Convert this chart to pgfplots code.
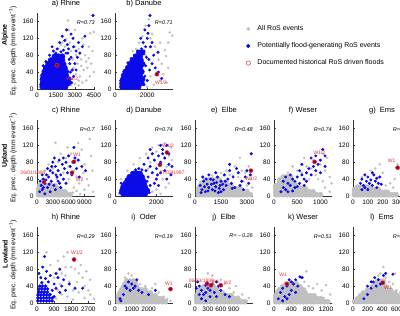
\documentclass[border=0pt]{standalone}
\usepackage{pgfplots}
\pgfplotsset{compat=1.18}
\usepackage{fontspec}
\setmainfont{Liberation Sans}
\definecolor{gcol}{RGB}{192,192,192}
\definecolor{bcol}{RGB}{10,10,235}
\definecolor{dred}{RGB}{150,0,50}
\definecolor{lred}{RGB}{235,45,45}
\tikzset{
  lab/.style={font=\fontsize{5}{5}\selectfont, text=lred, inner sep=0pt},
  rlab/.style={anchor=east, font=\fontsize{5.5}{6}\selectfont\itshape, inner sep=0pt},
}
\pgfplotsset{
  panel/.style={scale only axis, width=58pt, height=76pt, anchor=south west,
    xmin=0, ymin=0, ymax=180, ytick={0,40,80,120,160},
    axis lines=left, axis line style={-, draw=black!80, line width=0.4pt},
    tick align=inside, major tick length=1.8pt, tick style={black!80, line width=0.4pt},
    tick label style={font=\fontsize{6.5}{7}\selectfont},
    scaled x ticks=false, /pgf/number format/set thousands separator={},
    /pgf/number format/assume math mode=true,
    title style={font=\fontsize{7.5}{8}\selectfont, yshift=-3.5pt},
    clip mode=individual},
  gc/.style={only marks, mark=*, mark size=2.6pt, color=gcol},
  gs/.style={only marks, mark=*, mark size=1.1pt, color=gcol},
  bc/.style={only marks, mark=*, mark size=2.8pt, color=bcol},
  bs/.style={only marks, mark=*, mark size=1.3pt, color=bcol},
  rd/.style={only marks, mark=*, mark size=2pt, mark options={draw=lred, fill=dred, line width=0.5pt}},
}
\begin{document}
\begin{tikzpicture}
\useasboundingbox (0,0) rectangle (400pt,316pt);
\clip (0,0) rectangle (400pt,316pt);
% ---------- a) Rhine alpine
\begin{axis}[panel, at={(37pt,227pt)}, xmax=4600, xtick={0,1500,3000,4500}, title={a) Rhine},
  legend style={at={(axis description cs:3.55,0.566)}, anchor=west, draw=none, fill=none,
    font=\fontsize{7}{8}\selectfont, row sep=6.5pt, legend cell align=left,
    /tikz/every odd column/.append style={column sep=5pt}}]
\addlegendimage{only marks, mark=*, mark size=1.7pt, color=gcol}
\addlegendentry{All RoS events}
\addlegendimage{only marks, mark=*, mark size=1.9pt, color=bcol}
\addlegendentry{Potentially flood-generating RoS events}
\addlegendimage{only marks, mark=o, mark size=2.2pt, color=lred, line width=0.5pt}
\addlegendentry{Documented historical RoS driven floods}
\addplot[gs] coordinates {(200,5)(400,3)(600,8)(800,2)(1000,5)(1200,3)(1500,6)(1800,4)(2100,8)(2400,5)(2700,10)(3000,12)(3300,8)(3600,15)(3900,20)(4200,30)(2800,25)(3100,35)(3400,30)(3700,45)(4000,50)(4300,60)(2900,50)(3200,60)(3500,70)(3800,80)(4100,73)(4400,90)(2600,110)(2500,140)(2460,162)(3000,100)(3300,95)(4200,132)(3600,120)(2200,100)(2000,110)(1700,95)(1400,80)(1100,70)(800,55)(500,35)(300,30)(600,45)(900,62)(1300,88)(1900,105)(2300,118)(2700,90)(3100,80)(3500,55)(3900,65)(4500,40)(4100,100)(3000,140)(3700,105)(2850,70)(3300,20)(4500,135)};
\addplot[bc] coordinates {(450,5)(750,5)(1050,5)(1350,5)(1650,5)(1950,5)(2250,5)
(450,14)(750,14)(1050,14)(1350,14)(1650,14)(1950,14)(2250,14)(2500,14)
(450,23)(750,23)(1050,23)(1350,23)(1650,23)(1950,23)(2250,23)(2500,23)
(500,32)(800,32)(1100,32)(1400,32)(1700,32)(2000,32)(2300,32)
(600,41)(900,41)(1200,41)(1500,41)(1800,41)(2100,41)(2300,41)
(700,50)(1000,50)(1300,50)(1600,50)(1900,50)(2200,50)
(900,59)(1200,59)(1500,59)(1800,59)(2100,59)
(1100,68)(1400,68)(1700,68)(2000,68)
(1400,77)(1700,77)(2000,77)};
\addplot[bs] coordinates {(2300,85)(2500,95)(2700,75)(2900,100)(2860,120)(3100,90)(2600,60)(2800,45)(3000,60)(3200,75)(2400,105)(2200,115)(2000,125)(1800,110)(1600,95)(1300,90)(1000,80)(700,65)(3400,85)(3600,100)(4440,174)(3800,125)(2700,130)(2350,140)(3300,110)(2900,30)(3100,45)(500,55)(1200,100)(2100,92)(1900,88)(2550,70)(2650,40)(2750,15)(300,10)(350,25)(2450,85)(1500,85)};
\addplot[rd] coordinates {(1580,56)};
\node[lab] at (axis cs:2800,24) {W1/2};
\node[rlab] at (rel axis cs:1,0.88) {R=0.73};
\end{axis}
% ---------- b) Danube alpine
\begin{axis}[panel, at={(115pt,227pt)}, xmax=3600, xtick={0,2000}, title={b) Danube}]
\addplot[gs] coordinates {(300,10)(500,40)(700,50)(900,65)(1100,90)(1300,95)(1500,110)(1700,125)(1900,150)(2100,165)(2300,130)(2500,100)(2700,70)(2900,60)(3100,92)(3160,78)(3300,110)(3400,134)(3550,126)(2600,40)(2800,20)(3000,35)(3200,15)(2400,10)(2000,5)(2200,30)(1900,80)(2200,120)(2800,110)(3300,50)};
\addplot[bc] coordinates {(450,5)(700,5)(950,5)(1200,5)(1450,5)
(450,14)(700,14)(950,14)(1200,14)(1450,14)(1650,14)
(500,23)(750,23)(1000,23)(1250,23)(1500,23)(1700,23)
(550,32)(800,32)(1050,32)(1300,32)(1550,32)
(650,41)(900,41)(1150,41)(1400,41)(1650,41)
(800,50)(1050,50)(1300,50)(1550,50)
(950,59)(1200,59)(1450,59)(1700,59)
(1100,68)(1350,68)(1600,68)
(1300,77)(1550,77)(1500,86)(1700,86)};
\addplot[bs] coordinates {(1800,90)(1900,100)(1750,110)(2000,120)(2050,132)(1850,140)(2170,174)(2100,150)(1650,95)(1400,90)(1200,80)(1000,72)(2200,100)(2400,80)(2670,87)(2300,60)(2500,50)(2100,70)(1900,55)(2900,25)(2700,40)(1850,30)(2000,20)(2300,110)(1600,120)(1950,75)(2150,45)(800,62)(350,20)(1800,10)};
\addplot[rd] coordinates {(2600,35)};
\node[lab] at (axis cs:2850,16) {W1/2};
\node[rlab] at (rel axis cs:1,0.88) {R=0.71};
\end{axis}
% ---------- c) Rhine upland
\begin{axis}[panel, at={(37pt,120pt)}, xmax=11000, xtick={0,3000,6000,9000}, title={c) Rhine}]
\addplot[gc] coordinates {(300,3)(800,3)(1300,3)(1800,3)(2300,3)(2800,3)(3300,3)(3800,3)(4300,3)(4800,3)(5300,3)(5800,3)(6300,3)
(300,10)(800,10)(1300,10)(1800,10)(2300,10)(2800,10)(3300,10)(3800,10)(4300,10)(4800,10)(5300,10)
(300,17)(800,17)(1300,17)(1800,17)(2300,17)(2800,17)(3300,17)(3800,17)(4300,17)
(500,24)(1000,24)(1500,24)(2000,24)(2500,24)(3000,24)(3500,24)};
\addplot[gs] coordinates {(1000,40)(2000,50)(3000,65)(3500,126)(4000,80)(5000,55)(5500,90)(6000,70)(6500,100)(7000,60)(7500,45)(8000,85)(8500,110)(9000,75)(9500,40)(10000,135)(10500,60)(7000,20)(8000,30)(9000,15)(6000,40)(4500,100)(5800,115)(3800,40)(2500,30)(7800,125)(8800,55)(10200,95)(6800,8)(7500,12)(8200,5)(9800,25)(10600,10)(1500,60)(2200,75)};
\addplot[bs] coordinates {(500,10)(800,25)(1000,15)(1200,40)(1500,30)(1800,50)(2000,20)(2200,45)(2500,60)(2700,35)(3000,55)(3200,25)(3500,70)(3800,45)(4000,60)(4200,85)(4500,50)(4800,75)(5000,40)(5200,65)(5500,80)(5800,55)(6000,95)(6300,70)(6600,50)(7000,115)(7200,90)(7500,65)(7800,85)(8000,45)(8500,70)(1500,5)(2500,10)(3500,15)(4500,20)(600,35)(2000,65)(3000,80)(3300,90)(4000,35)(5500,30)(6800,80)(9200,60)(1000,50)(2800,70)(5000,90)(1200,20)(1700,38)(2300,28)(3600,50)(4300,30)};
\addplot[rd] coordinates {(7000,81)(6640,55)(1330,33)};
\node[lab] at (axis cs:7600,98) {W1};
\node[lab] at (axis cs:8100,38) {W2};
\node[lab] at (axis cs:-760,55) {26/01/1995};
\node[rlab] at (rel axis cs:1,0.88) {R=0.7};
\end{axis}
% ---------- d) Danube upland
\begin{axis}[panel, at={(115pt,120pt)}, xmax=2800, xtick={0,2000}, title={d) Danube}]
\addplot[gs] coordinates {(300,40)(600,60)(900,75)(1200,90)(1500,100)(1800,115)(2100,120)(2400,125)(2700,115)(2600,95)(2750,85)(2500,70)(2300,40)(2000,15)(2600,30)(2750,55)(1800,10)(1200,5)(2200,5)(1700,80)(2000,105)(1400,40)(1600,65)(2450,20)(200,5)(1000,60)};
\addplot[bc] coordinates {(400,5)(550,5)(700,5)(850,5)(1000,5)(1150,5)(1300,5)(1450,5)
(350,13)(500,13)(650,13)(800,13)(950,13)(1100,13)(1250,13)(1400,13)(1550,13)
(400,21)(550,21)(700,21)(850,21)(1000,21)(1150,21)(1300,21)(1450,21)
(500,29)(650,29)(800,29)(950,29)(1100,29)(1250,29)(1400,29)
(600,37)(750,37)(900,37)(1050,37)(1200,37)(1350,37)
(700,45)(850,45)(1000,45)(1150,45)(1300,45)
(900,53)(1050,53)(1200,53)};
\addplot[bs] coordinates {(1500,60)(1600,45)(1700,70)(1800,55)(1900,85)(2000,65)(2100,95)(2200,80)(2300,110)(2400,90)(2500,120)(1400,75)(1300,62)(1150,65)(1600,90)(1800,100)(2000,40)(2200,55)(2400,60)(2600,75)(2700,50)(1900,30)(2100,25)(1700,25)(2300,100)(2600,100)(2200,120)(1000,62)(800,55)(1500,20)(2500,40)(2750,70)(1700,110)(2050,50)(1550,35)(300,30)(250,8)(1650,8)};
\addplot[rd] coordinates {(2510,103)(2170,74)};
\node[lab] at (axis cs:2560,119) {W1/2};
\node[lab] at (axis cs:2750,55) {27/02/1997};
\node[rlab] at (rel axis cs:1,0.88) {R=0.74};
\end{axis}
% ---------- e) Elbe upland
\begin{axis}[panel, at={(195pt,120pt)}, xmax=3350, xtick={0,1500,3000}, title={e)\ \ Elbe}]
\addplot[gc] coordinates {(200,3)(400,3)(600,3)(800,3)(1000,3)(1200,3)(1400,3)(1600,3)(1800,3)(2000,3)(2200,3)(2400,3)(2600,3)(2800,3)(3000,3)(3200,3)
(200,10)(400,10)(600,10)(800,10)(1000,10)(1200,10)(1400,10)(1600,10)(1800,10)(2000,10)(2200,10)(2400,10)(2600,10)(2800,10)(3000,10)
(200,17)(400,17)(600,17)(800,17)(1000,17)(1200,17)(1400,17)(1600,17)(1800,17)(2000,17)(2200,17)(2400,17)(2600,17)
(300,24)(500,24)(700,24)(900,24)(1100,24)(1300,24)(1500,24)(1700,24)(1900,24)(2100,24)
(400,31)(600,31)(800,31)(1000,31)(1200,31)(1400,31)(1600,31)(1800,31)
(600,38)(800,38)(1000,38)(1200,38)(1400,38)};
\addplot[gs] coordinates {(2000,50)(2500,45)(2800,35)(3000,25)(3200,40)(2600,90)(2300,70)(1800,60)(1500,55)(3100,70)(3300,20)(2900,55)(2200,48)(1000,48)(2700,60)};
\addplot[bs] coordinates {(300,25)(400,15)(500,35)(600,10)(700,28)(800,20)(900,40)(1000,15)(1100,30)(1200,22)(1300,45)(1400,18)(1500,35)(1600,28)(1700,50)(1800,25)(1900,40)(2000,60)(2100,30)(2200,45)(2300,20)(2500,55)(2700,35)(2900,45)(3100,30)(3200,50)(2400,65)(2000,75)(3000,60)(2600,25)(450,45)(1200,55)(800,50)(1500,10)(2800,15)(3250,100)(350,8)(550,22)(650,40)(750,12)(950,28)(1050,38)(1150,12)(1250,32)(1450,25)(1350,8)(1650,15)(1750,35)(2150,18)};
\addplot[rd] coordinates {(3230,60)};
\node[lab] at (axis cs:3250,40) {W1/2};
\node[rlab] at (rel axis cs:1,0.88) {R=0.48};
\end{axis}
% ---------- f) Weser upland
\begin{axis}[panel, at={(274pt,120pt)}, xmax=1250, xtick={0,500,1000}, title={f) Weser}]
\addplot[gc] coordinates {(40,3)(120,3)(200,3)(280,3)(360,3)(440,3)(520,3)(600,3)(680,3)(760,3)(840,3)(920,3)(1000,3)
(40,10)(120,10)(200,10)(280,10)(360,10)(440,10)(520,10)(600,10)(680,10)(760,10)(840,10)
(40,17)(120,17)(200,17)(280,17)(360,17)(440,17)(520,17)(600,17)(680,17)
(40,24)(120,24)(200,24)(280,24)(360,24)(440,24)(520,24)
(120,31)(200,31)(280,31)(360,31)(440,31)
(120,38)(200,38)(280,38)(360,38)
(200,45)(280,45)(360,45)};
\addplot[gs] coordinates {(500,60)(600,55)(700,70)(800,65)(900,50)(1000,75)(1100,60)(1200,45)(1150,90)(1050,100)(950,40)(850,85)(1240,30)(400,70)(300,55)(650,90)(1100,20)(1200,10)(750,40)(1050,35)};
\addplot[bs] coordinates {(150,10)(200,20)(250,15)(300,30)(350,25)(400,40)(450,35)(500,45)(550,30)(600,50)(650,40)(700,55)(750,65)(800,50)(850,70)(900,60)(950,75)(1000,85)(1050,110)(1100,95)(250,45)(350,50)(450,20)(550,60)(700,35)(900,95)(1000,55)(600,75)(800,90)(1100,70)(200,35)(300,10)(400,12)(500,22)(650,25)};
\addplot[rd] coordinates {(875,81)};
\node[lab] at (axis cs:980,103) {W1/2};
\node[rlab] at (rel axis cs:1,0.88) {R=0.74};
\end{axis}
% ---------- g) Ems upland
\begin{axis}[panel, at={(353pt,120pt)}, xmax=390, xtick={0,100,200,300}, title={g)\ \ Ems}]
\addplot[gc] coordinates {(10,3)(30,3)(50,3)(70,3)(90,3)(110,3)(130,3)(150,3)(170,3)(190,3)(210,3)(230,3)(250,3)(270,3)(290,3)
(10,9)(30,9)(50,9)(70,9)(90,9)(110,9)(130,9)(150,9)(170,9)(190,9)(210,9)(230,9)
(10,15)(30,15)(50,15)(70,15)(90,15)(110,15)(130,15)(150,15)(170,15)
(30,21)(50,21)(70,21)(90,21)(110,21)};
\addplot[gs] coordinates {(60,45)(120,60)(150,65)(200,55)(250,30)(280,40)(300,75)(270,20)(320,50)(350,35)(220,25)(180,75)(330,15)};
\addplot[bs] coordinates {(50,30)(60,40)(70,25)(80,20)(90,35)(100,45)(110,30)(120,38)(130,25)(140,50)(150,35)(160,42)(170,30)(180,45)(100,15)(130,55)(160,20)(190,28)(80,50)(60,15)};
\addplot[rd] coordinates {(300,67)};
\node[lab] at (axis cs:260,84) {W1};
\node[rlab] at (rel axis cs:1,0.88) {R=0.66};
\end{axis}
% ---------- h) Rhine lowland
\begin{axis}[panel, at={(37pt,13pt)}, xmax=3050, xtick={0,900,1800,2700}, title={h) Rhine}]
\addplot[gs] coordinates {(1000,10)(1300,20)(1600,15)(1900,30)(2200,25)(2500,40)(2800,20)(3000,10)(1100,100)(1400,110)(1600,120)(1800,85)(2000,80)(2200,70)(2400,60)(2600,75)(2800,55)(1500,65)(1700,50)(1200,45)(900,60)(700,90)(2100,50)(2700,30)(1500,85)(500,120)(2300,90)(1300,70)(1100,30)(1900,8)(2500,12)(600,15)(300,50)};
\addplot[bs, mark size=1.6pt] coordinates {(50,5)(200,5)(350,5)(500,5)(650,5)(800,5)
(50,12)(200,12)(350,12)(500,12)(650,12)(800,12)
(50,19)(200,19)(350,19)(500,19)(650,19)
(100,26)(250,26)(400,26)(550,26)
(100,33)(250,33)(400,33)(550,33)
(150,40)(300,40)(450,40)};
\addplot[bs] coordinates {(400,110)(300,85)(500,75)(200,60)(700,65)(600,50)(900,45)(1000,35)(1100,60)(1200,25)(1300,40)(1400,55)(1500,30)(1700,45)(2000,35)(2400,35)(800,30)(1000,70)(100,70)(250,48)(1200,80)(700,20)(900,15)(450,58)};
\addplot[rd] coordinates {(1950,103)};
\node[lab] at (axis cs:2100,119) {W1/2};
\node[rlab] at (rel axis cs:1,0.88) {R=0.29};
\end{axis}
% ---------- i) Oder lowland
\begin{axis}[panel, at={(115pt,13pt)}, xmax=3450, xtick={0,1000,2000}, title={i)\ \ Oder}]
\addplot[gc] coordinates {(200,3)(400,3)(600,3)(800,3)(1000,3)(1200,3)(1400,3)(1600,3)(1800,3)(2000,3)(2200,3)(2400,3)(2600,3)(2800,3)(3000,3)
(200,10)(400,10)(600,10)(800,10)(1000,10)(1200,10)(1400,10)(1600,10)(1800,10)(2000,10)(2200,10)(2400,10)(2600,10)(2800,10)
(200,17)(400,17)(600,17)(800,17)(1000,17)(1200,17)(1400,17)(1600,17)(1800,17)(2000,17)(2200,17)(2400,17)
(300,24)(500,24)(700,24)(900,24)(1100,24)(1300,24)(1500,24)(1700,24)(1900,24)(2100,24)
(400,31)(600,31)(800,31)(1000,31)(1200,31)(1400,31)(1600,31)(1800,31)
(500,38)(700,38)(900,38)(1100,38)(1300,38)
(600,45)(800,45)(1000,45)(1200,45)
(700,52)(900,52)(1100,52)};
\addplot[gs] coordinates {(1000,65)(800,70)(1300,50)(1800,40)(2200,35)(2600,25)(2900,15)(3100,10)(1500,45)(600,60)(3300,5)(2400,45)};
\addplot[bs] coordinates {(300,10)(350,5)(600,40)(700,35)(800,50)(900,30)(1000,45)(1100,35)(1200,40)(1400,30)(1600,25)(2000,20)(2400,30)(500,20)(1300,55)};
\addplot[rd] coordinates {(3300,33)};
\node[lab] at (axis cs:3200,45) {W1};
\node[rlab] at (rel axis cs:1,0.88) {R=0.19};
\end{axis}
% ---------- j) Elbe lowland
\begin{axis}[panel, at={(195pt,13pt)}, xmax=1350, xtick={0,300,600,900}, title={j)\ \ Elbe}]
\addplot[gc] coordinates {(40,3)(120,3)(200,3)(280,3)(360,3)(440,3)(520,3)(600,3)(680,3)(760,3)(840,3)(920,3)(1000,3)(1080,3)(1160,3)
(40,10)(120,10)(200,10)(280,10)(360,10)(440,10)(520,10)(600,10)(680,10)(760,10)(840,10)(920,10)(1000,10)
(40,17)(120,17)(200,17)(280,17)(360,17)(440,17)(520,17)(600,17)(680,17)(760,17)(840,17)
(80,24)(160,24)(240,24)(320,24)(400,24)(480,24)(560,24)(640,24)
(120,31)(200,31)(280,31)(360,31)(440,31)(520,31)
(200,38)(280,38)(360,38)(440,38)};
\addplot[gs] coordinates {(600,55)(700,45)(800,35)(900,25)(1000,15)(1100,20)(1250,12)(500,50)(400,65)(300,70)(1200,5)(950,40)};
\addplot[bs] coordinates {(30,35)(60,50)(100,40)(150,30)(200,20)(250,25)(300,35)(350,30)(400,45)(450,25)(500,15)(550,40)(600,30)(700,20)(800,15)(150,10)(250,5)(350,15)(100,20)(500,50)(250,42)};
\addplot[rd] coordinates {(280,46)(370,42)(600,42)};
\node[lab] at (axis cs:150,52) {06/03/1998};
\node[lab] at (axis cs:480,50) {W1};
\node[lab] at (axis cs:760,48) {W2};
\node[rlab] at (rel axis cs:1,0.88) {R=$-$0.26};
\end{axis}
% ---------- k) Weser lowland
\begin{axis}[panel, at={(274pt,13pt)}, xmax=1340, xtick={0,400,800,1200}, title={k) Weser}]
\addplot[gc] coordinates {(40,3)(120,3)(200,3)(280,3)(360,3)(440,3)(520,3)(600,3)(680,3)(760,3)(840,3)(920,3)(1000,3)(1080,3)(1160,3)(1240,3)
(40,10)(120,10)(200,10)(280,10)(360,10)(440,10)(520,10)(600,10)(680,10)(760,10)(840,10)(920,10)(1000,10)(1080,10)
(40,17)(120,17)(200,17)(280,17)(360,17)(440,17)(520,17)(600,17)(680,17)(760,17)(840,17)(920,17)
(80,24)(160,24)(240,24)(320,24)(400,24)(480,24)(560,24)(640,24)(720,24)
(120,31)(200,31)(280,31)(360,31)(440,31)(520,31)(600,31)(680,31)
(200,38)(280,38)(360,38)(440,38)(520,38)(600,38)
(280,45)(360,45)(440,45)(520,45)};
\addplot[gs] coordinates {(600,60)(700,50)(800,40)(900,35)(1000,45)(1100,30)(1200,42)(1300,20)(750,75)(1150,12)(950,20)};
\addplot[bs] coordinates {(100,10)(150,25)(200,35)(250,15)(300,40)(350,20)(400,30)(450,45)(500,55)(550,40)(600,62)(650,60)(200,5)(300,10)(400,50)(500,25)(350,55)};
\addplot[rd] coordinates {(300,45)};
\node[lab] at (axis cs:210,67) {W1};
\node[rlab] at (rel axis cs:1,0.88) {R=0.51};
\end{axis}
% ---------- l) Ems lowland
\begin{axis}[panel, at={(353pt,13pt)}, xmax=800, xtick={0,200,400,600}, title={l)\ \ Ems}]
\addplot[gc, mark size=2.4pt] coordinates {(20,3)(60,3)(100,3)(140,3)(180,3)(220,3)(260,3)(300,3)(340,3)(380,3)(420,3)(460,3)(500,3)(540,3)(580,3)(620,3)(660,3)(700,3)
(60,10)(100,10)(140,10)(180,10)(220,10)(260,10)(300,10)(340,10)(380,10)(420,10)(460,10)(500,10)(540,10)(580,10)(620,10)(660,10)
(100,17)(140,17)(180,17)(220,17)(260,17)(300,17)(340,17)(380,17)(420,17)(460,17)(500,17)(540,17)(580,17)(620,17)
(140,24)(180,24)(220,24)(260,24)(300,24)(340,24)(380,24)(420,24)(460,24)(500,24)(540,24)(580,24)
(200,31)(240,31)(280,31)(320,31)(360,31)(400,31)(440,31)(480,31)(520,31)
(260,38)(300,38)(340,38)(380,38)(420,38)(460,38)
(300,45)(340,45)(380,45)(420,45)
(340,52)(380,52)(420,52)};
\addplot[gs] coordinates {(420,85)(380,70)(450,60)(500,50)(550,45)(600,30)(650,25)(350,65)(700,12)(580,70)};
\addplot[bs] coordinates {(150,10)(200,20)(250,35)(280,50)(300,60)(320,40)(350,55)(380,45)(420,65)(450,70)(250,50)(200,40)(550,68)};
\addplot[rd] coordinates {(410,48)};
\node[lab] at (axis cs:480,36) {W1};
\node[rlab] at (rel axis cs:1,0.88) {R=0.66};
\end{axis}
% ---------- row labels
\node[rotate=90, font=\bfseries\fontsize{7}{8}\selectfont] at (5pt,281pt) {Alpine};
\node[rotate=90, font=\bfseries\fontsize{7}{8}\selectfont] at (5pt,160pt) {Upland};
\node[rotate=90, font=\bfseries\fontsize{7}{8}\selectfont] at (5pt,62pt) {Lowland};
\node[rotate=90, font=\fontsize{6.8}{7}\selectfont] at (13pt,265pt) {Eq. prec. depth (mm event\textsuperscript{−1})};
\node[rotate=90, font=\fontsize{6.8}{7}\selectfont] at (13pt,158pt) {Eq. prec. depth (mm event\textsuperscript{−1})};
\node[rotate=90, font=\fontsize{6.8}{7}\selectfont] at (13pt,51pt) {Eq. prec. depth (mm event\textsuperscript{−1})};
\end{tikzpicture}
\end{document}
